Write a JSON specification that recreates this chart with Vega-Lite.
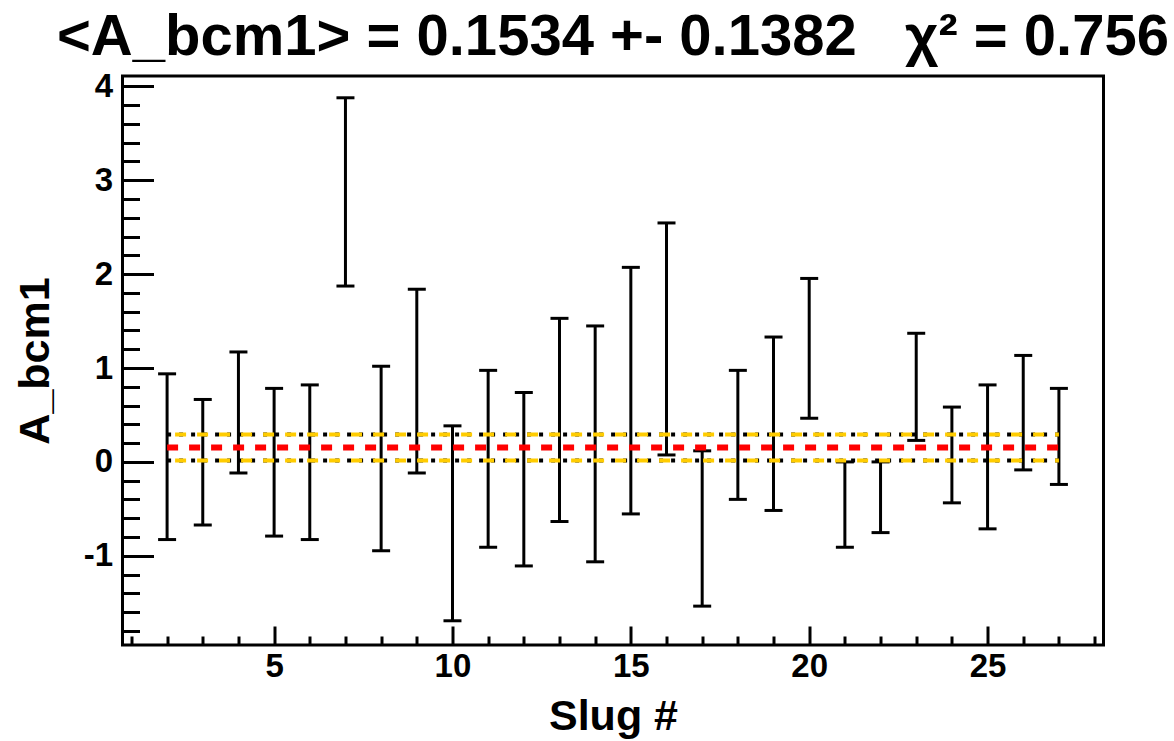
{
  "$schema": "https://vega.github.io/schema/vega-lite/v6.json",
  "width": 981,
  "height": 569,
  "autosize": {"type": "none"},
  "padding": {"left": 122.5, "top": 76, "right": 70.5, "bottom": 96},
  "background": "white",
  "config": {
    "view": {"stroke": "black", "strokeWidth": 3},
    "axis": {
      "domain": false,
      "grid": false,
      "labelFont": "Liberation Sans",
      "labelFontWeight": "bold",
      "labelFontSize": 33,
      "labelColor": "black",
      "tickColor": "black",
      "tickWidth": 3,
      "titleFont": "Liberation Sans",
      "titleFontWeight": "bold",
      "titleColor": "black"
    }
  },
  "title": {
    "text": "<A_bcm1> = 0.1534 +- 0.1382\u00a0\u00a0 χ² = 0.756",
    "font": "Liberation Sans",
    "fontWeight": "bold",
    "fontSize": 58,
    "color": "black",
    "anchor": "middle",
    "offset": 3
  },
  "datasets": {
    "slugs": [
      {"slug": 2, "lo": -0.827, "hi": 0.938},
      {"slug": 3, "lo": -0.672, "hi": 0.665},
      {"slug": 4, "lo": -0.118, "hi": 1.171},
      {"slug": 5, "lo": -0.79, "hi": 0.783},
      {"slug": 6, "lo": -0.827, "hi": 0.82},
      {"slug": 7, "lo": 1.873, "hi": 3.878},
      {"slug": 8, "lo": -0.946, "hi": 1.019},
      {"slug": 9, "lo": -0.118, "hi": 1.839},
      {"slug": 10, "lo": -1.692, "hi": 0.384},
      {"slug": 11, "lo": -0.909, "hi": 0.975},
      {"slug": 12, "lo": -1.108, "hi": 0.739},
      {"slug": 13, "lo": -0.635, "hi": 1.529},
      {"slug": 14, "lo": -1.064, "hi": 1.448},
      {"slug": 15, "lo": -0.554, "hi": 2.072},
      {"slug": 16, "lo": 0.074, "hi": 2.545},
      {"slug": 17, "lo": -1.536, "hi": 0.118},
      {"slug": 18, "lo": -0.399, "hi": 0.975},
      {"slug": 19, "lo": -0.517, "hi": 1.33},
      {"slug": 20, "lo": 0.465, "hi": 1.954},
      {"slug": 21, "lo": -0.909, "hi": 0.0},
      {"slug": 22, "lo": -0.753, "hi": 0.0},
      {"slug": 23, "lo": 0.229, "hi": 1.37},
      {"slug": 24, "lo": -0.436, "hi": 0.584},
      {"slug": 25, "lo": -0.713, "hi": 0.82},
      {"slug": 26, "lo": -0.085, "hi": 1.134},
      {"slug": 27, "lo": -0.24, "hi": 0.783}
    ],
    "band": [
      {"from": 2, "to": 27, "level": 0.2916},
      {"from": 2, "to": 27, "level": 0.0152}
    ],
    "mean": [
      {"from": 2, "to": 27, "level": 0.1534}
    ]
  },
  "layer": [
    {
      "data": {"name": "slugs"},
      "mark": {"type": "rule", "strokeWidth": 3, "color": "black"},
      "encoding": {
        "x": {
          "field": "slug", "type": "quantitative",
          "scale": {"domain": [0.75, 28.25], "nice": false, "zero": false},
          "axis": {
            "orient": "bottom", "values": [5, 10, 15, 20, 25], "ticks": false,
            "labelPadding": 5, "title": "Slug #", "titleFontSize": 43, "titlePadding": 12
          }
        },
        "y": {
          "field": "lo", "type": "quantitative",
          "scale": {"domain": [-1.95, 4.11], "nice": false, "zero": false},
          "axis": {
            "orient": "left", "values": [-1, 0, 1, 2, 3, 4], "ticks": false,
            "labelExpr": "replace(datum.label, '\u2212', '-')",
            "labelPadding": 10, "title": "A_bcm1", "titleFontSize": 43, "titlePadding": 26
          }
        },
        "y2": {"field": "hi"}
      }
    },
    {
      "data": {"name": "slugs"},
      "mark": {"type": "tick", "orient": "horizontal", "size": 18, "thickness": 3, "color": "black", "opacity": 1},
      "encoding": {
        "x": {"field": "slug", "type": "quantitative",
          "axis": {"orient": "bottom", "values": [5, 10, 15, 20, 25], "labels": false, "tickSize": -19, "title": null}},
        "y": {"field": "hi", "type": "quantitative",
          "axis": {"orient": "left", "values": [-1, 0, 1, 2, 3, 4], "labels": false, "tickSize": -31, "title": null}}
      }
    },
    {
      "data": {"name": "slugs"},
      "mark": {"type": "tick", "orient": "horizontal", "size": 18, "thickness": 3, "color": "black", "opacity": 1},
      "encoding": {
        "x": {"field": "slug", "type": "quantitative",
          "axis": {"orient": "bottom", "values": [1, 2, 3, 4, 6, 7, 8, 9, 11, 12, 13, 14, 16, 17, 18, 19, 21, 22, 23, 24, 26, 27, 28], "labels": false, "tickSize": -9, "title": null}},
        "y": {"field": "lo", "type": "quantitative",
          "axis": {"orient": "left", "values": [-1.8, -1.6, -1.4, -1.2, -0.8, -0.6, -0.4, -0.2, 0.2, 0.4, 0.6, 0.8, 1.2, 1.4, 1.6, 1.8, 2.2, 2.4, 2.6, 2.8, 3.2, 3.4, 3.6, 3.8], "labels": false, "tickSize": -17, "title": null}}
      }
    },
    {
      "data": {"name": "band"},
      "mark": {"type": "rule", "color": "black", "strokeWidth": 4, "strokeDash": [4, 8]},
      "encoding": {
        "x": {"field": "from", "type": "quantitative", "axis": null},
        "x2": {"field": "to"},
        "y": {"field": "level", "type": "quantitative", "axis": null}
      }
    },
    {
      "data": {"name": "band"},
      "mark": {"type": "rule", "color": "#ffcc00", "strokeWidth": 4, "strokeDash": [11, 11], "strokeDashOffset": 14},
      "encoding": {
        "x": {"field": "from", "type": "quantitative", "axis": null},
        "x2": {"field": "to"},
        "y": {"field": "level", "type": "quantitative", "axis": null}
      }
    },
    {
      "data": {"name": "mean"},
      "mark": {"type": "rule", "color": "#ff0000", "strokeWidth": 6, "strokeDash": [11, 11]},
      "encoding": {
        "x": {"field": "from", "type": "quantitative", "axis": null},
        "x2": {"field": "to"},
        "y": {"field": "level", "type": "quantitative", "axis": null}
      }
    }
  ],
  "resolve": {"axis": {"x": "independent", "y": "independent"}}
}
